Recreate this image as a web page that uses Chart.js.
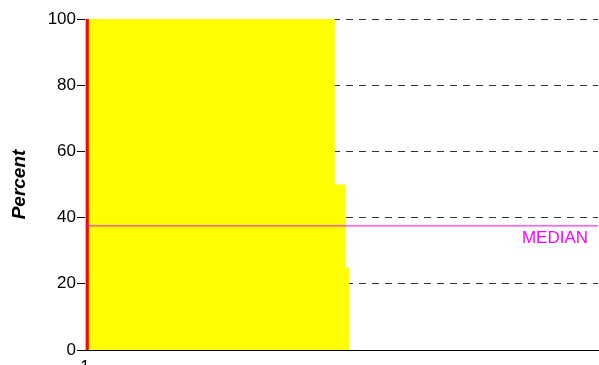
<!DOCTYPE html>
<html>
<head>
<meta charset="utf-8">
<script src="https://cdn.jsdelivr.net/npm/chart.js@4.4.7/dist/chart.umd.min.js"></script>
<style>
  html, body { margin: 0; padding: 0; background: #fff; }
  #wrap { width: 599px; height: 365px; position: relative; }
</style>
</head>
<body>
<div id="wrap"><canvas id="chart"></canvas></div>
<script>
// step edges of the yellow block (x units 0..100) and their heights
const stepX = [0, 48.7, 50.8, 51.5];
const stepY = [100, 50, 25, 0];
const markerX = 0.45;        // red line just right of the axis
const medianValue = 37.5;
const yTicks = [0, 20, 40, 60, 80, 100];
const xTicks = [0];
const xTickLabels = ['1'];   // only the top of it shows at the bottom edge

const FONT = "'Liberation Sans', Arial, sans-serif";

// write "MEDIAN" under the median line, right side
const medianLabel = {
  id: 'medianLabel',
  afterDatasetsDraw(chart) {
    const { ctx, chartArea, scales } = chart;
    const y = scales.y.getPixelForValue(medianValue);
    ctx.save();
    ctx.fillStyle = '#ff00ff';
    ctx.font = '17px ' + FONT;
    ctx.textAlign = 'right';
    ctx.textBaseline = 'top';
    ctx.fillText('MEDIAN', chartArea.right - 10, y + 4);
    ctx.restore();
  },
};

new Chart(document.getElementById('chart'), {
  type: 'line',
  data: {
    datasets: [
      {
        label: 'Percent',
        data: stepX.map((x, i) => ({ x, y: stepY[i] })),
        stepped: 'before',
        fill: 'origin',
        backgroundColor: '#ffff00',
        borderWidth: 0,
        pointRadius: 0,
        order: 3,
      },
      {
        label: 'Median',
        data: [{ x: 0, y: medianValue }, { x: 100, y: medianValue }],
        borderColor: '#ff00ff',
        borderWidth: 1,
        pointRadius: 0,
        order: 1,
      },
      {
        label: 'Marker',
        data: [{ x: markerX, y: 0 }, { x: markerX, y: 100 }],
        borderColor: '#ff0000',
        borderWidth: 3,
        pointRadius: 0,
        order: 2,
      },
    ],
  },
  options: {
    responsive: true,
    maintainAspectRatio: false,
    animation: false,
    layout: { padding: { top: 19, right: 1, left: 8, bottom: 0 } },
    plugins: { legend: { display: false }, tooltip: { enabled: false } },
    scales: {
      x: {
        type: 'linear',
        min: 0,
        max: 100,
        afterBuildTicks: (s) => { s.ticks = xTicks.map((v) => ({ value: v })); },
        ticks: {
          color: '#000',
          font: { family: FONT, size: 17 },
          padding: 7,
          maxRotation: 0,
          autoSkip: false,
          callback: (v, i) => xTickLabels[i],
        },
        grid: { display: false, drawTicks: false },
        border: { display: true, color: '#000', width: 1 },
        afterFit: (s) => { s.height = 15; },
      },
      y: {
        min: 0,
        max: 100,
        afterBuildTicks: (s) => { s.ticks = yTicks.map((v) => ({ value: v })); },
        ticks: { color: '#000', font: { family: FONT, size: 17 }, padding: 1 },
        grid: {
          color: (c) => (c.tick.value === 0 ? 'rgba(0,0,0,0)' : '#333'),
          tickBorderDash: [],
          tickColor: '#000',
          tickLength: 8,
          lineWidth: 1,
        },
        border: { display: true, color: '#000', width: 1, dash: [7, 6] },
        title: {
          display: true,
          text: 'Percent',
          color: '#000',
          font: { family: FONT, size: 19, weight: 'bold', style: 'italic' },
          padding: { top: 0, bottom: 0 },
        },
        afterFit: (s) => { s.width = 77; },
      },
    },
  },
  plugins: [medianLabel],
});
</script>
</body>
</html>
